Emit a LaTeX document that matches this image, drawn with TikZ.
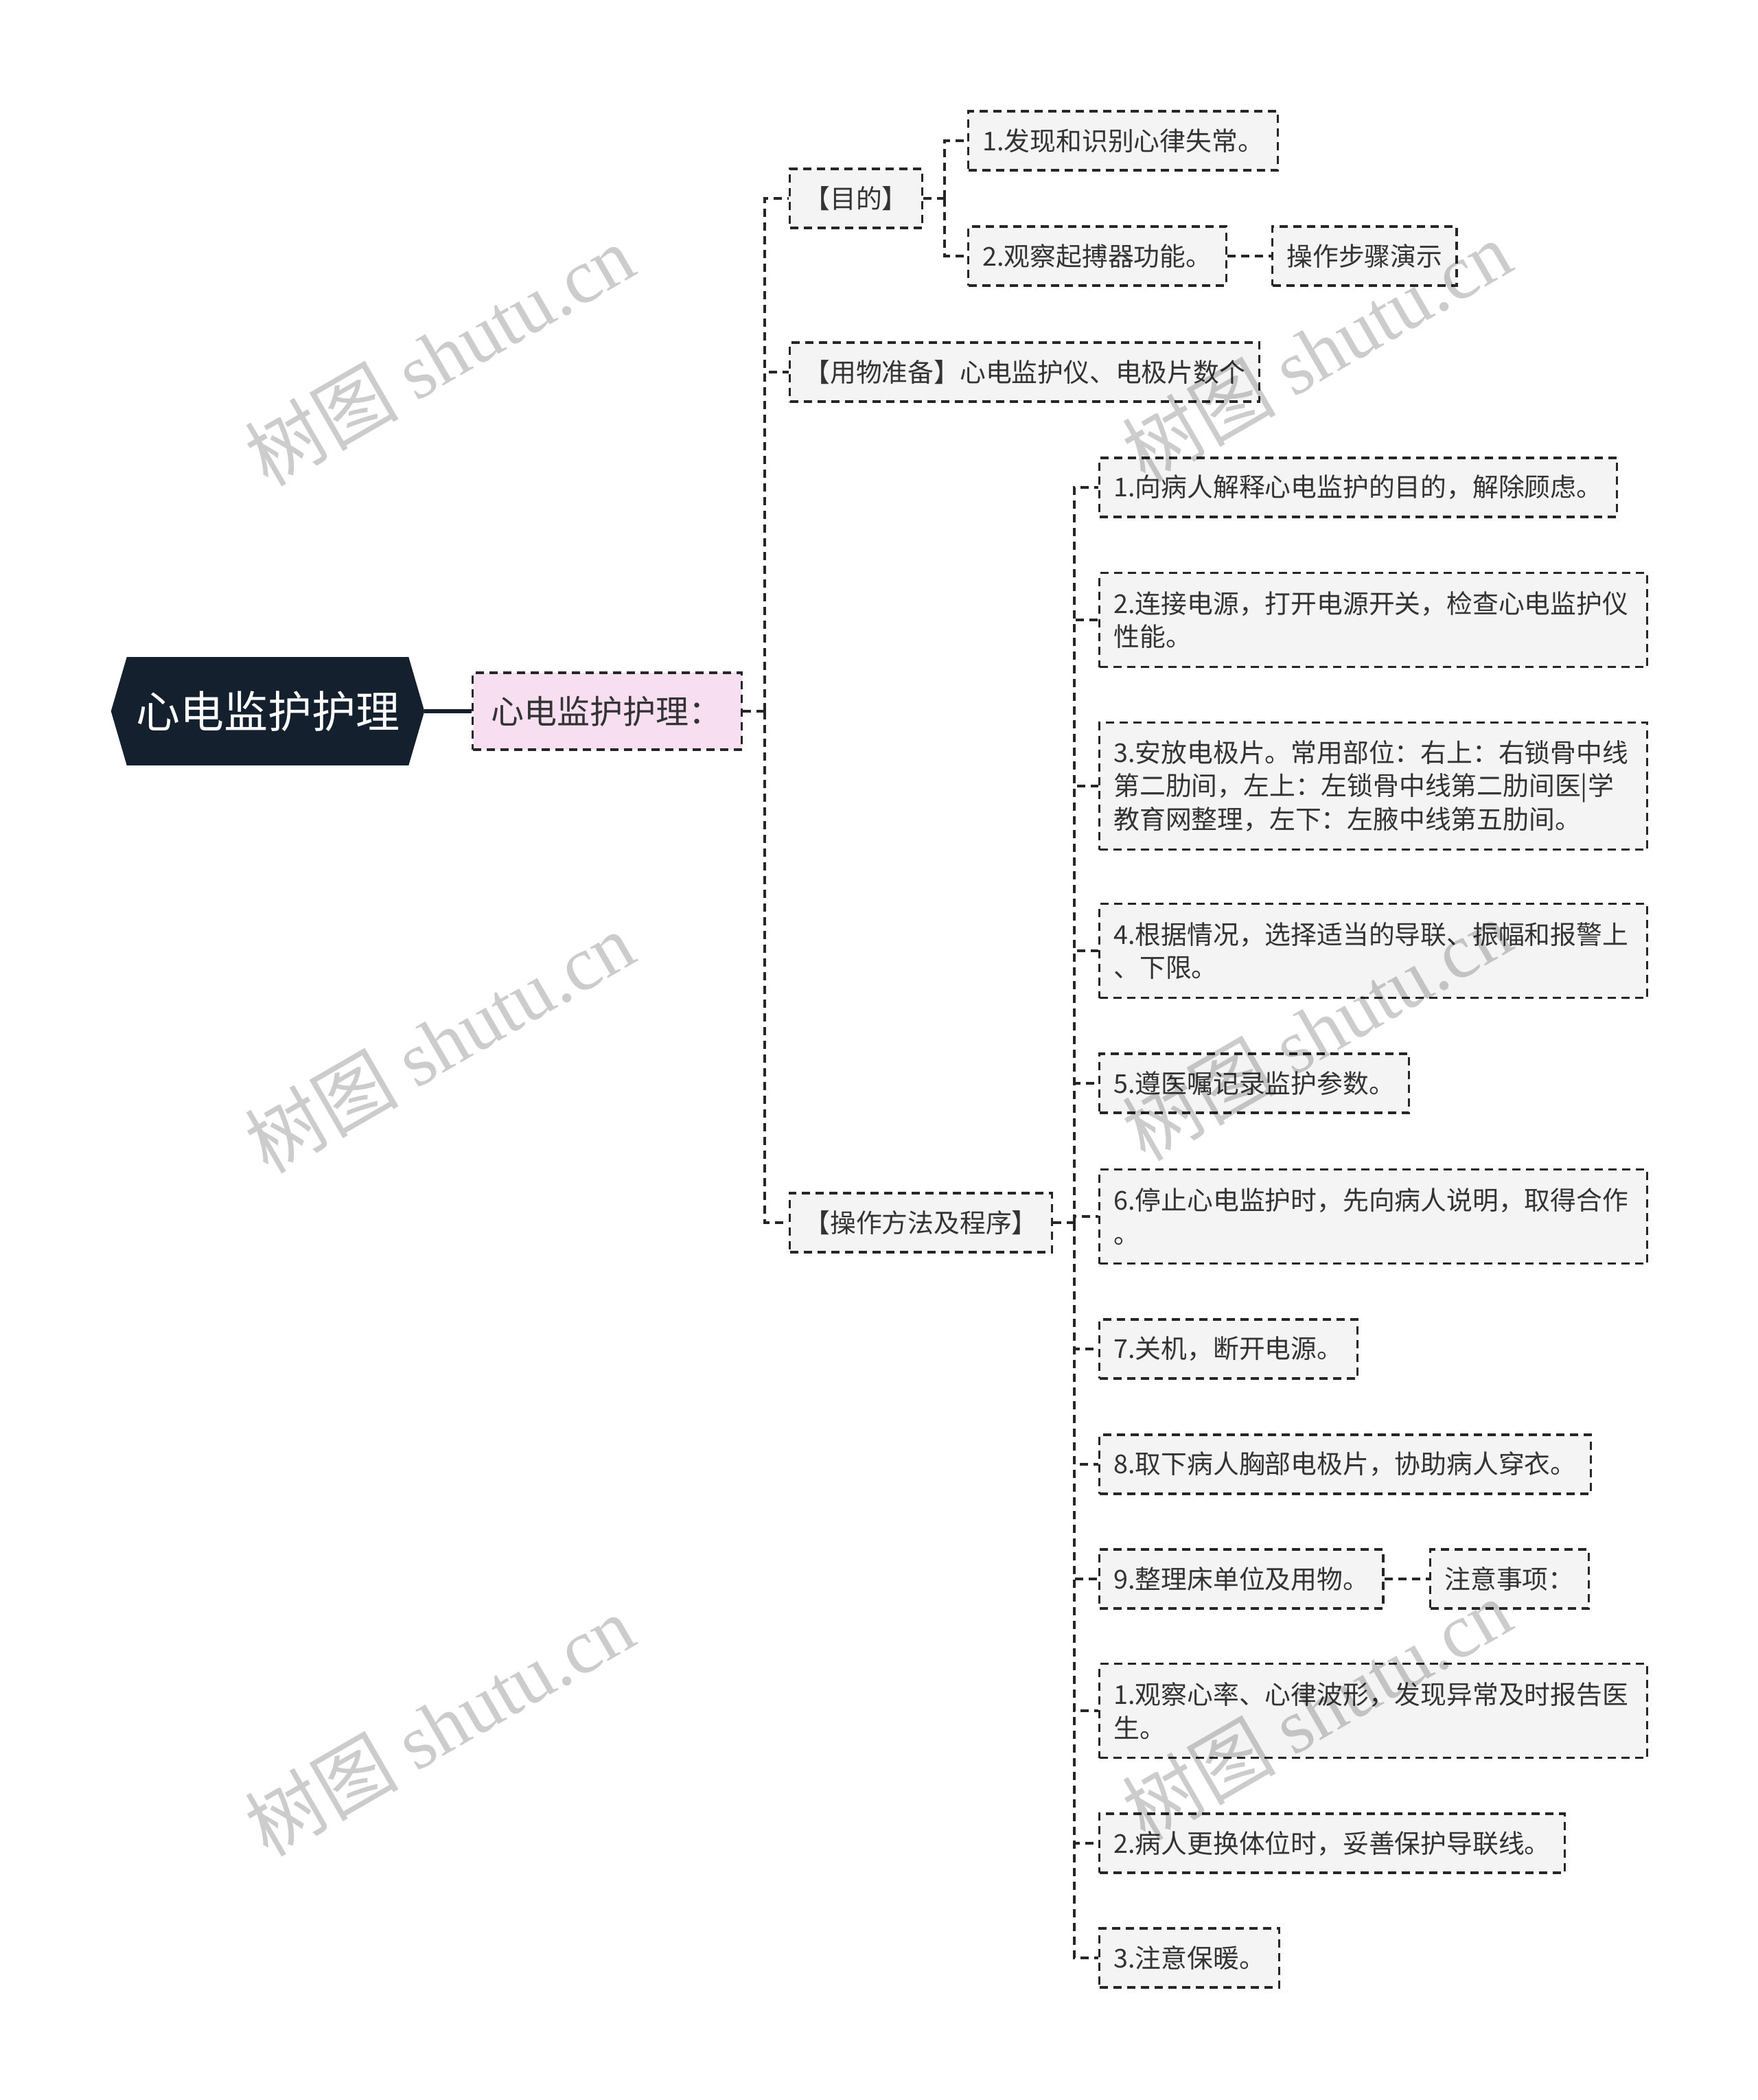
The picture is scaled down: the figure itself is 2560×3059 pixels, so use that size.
\documentclass[tikz,border=0pt]{standalone}
\usepackage{fontspec}
\setmainfont{Noto Sans CJK SC}
\newfontfamily\marklatin{Liberation Serif}
\usetikzlibrary{backgrounds}
\definecolor{rootfill}{HTML}{15202E}
\definecolor{topicfill}{HTML}{F7DEF1}
\definecolor{leaffill}{HTML}{F4F4F4}
\definecolor{edgeline}{HTML}{262626}
\definecolor{inktext}{HTML}{333333}
\tikzset{
  rootbox/.style={text=white, minimum width=113.75pt, minimum height=39pt,
    inner sep=0pt, font=\fontsize{16}{19}\selectfont},
  leafbox/.style={draw=edgeline, line width=0.8pt, dash pattern=on 3pt off 2pt,
    fill=leaffill, text=inktext, anchor=west, minimum height=21.5pt,
    inner xsep=5.2pt, inner ysep=0pt, font=\fontsize{9.45}{12.2}\selectfont},
  topicbox/.style={leafbox, fill=topicfill, text width=84.5pt, align=left,
    inner xsep=6.75pt, minimum height=28pt, font=\fontsize{12}{14}\selectfont},
  widebox/.style={leafbox, text width=189.1pt, align=left},
  link/.style={draw=edgeline, line width=0.8pt, dash pattern=on 3pt off 2pt},
  rootlink/.style={draw=rootfill, line width=1.6pt},
  watermark/.style={text=black, text opacity=0.2, rotate=30,
    font=\fontsize{28}{28}\selectfont}
}
\begin{document}
\begin{tikzpicture}[x=0.25pt, y=-0.25pt]
  \useasboundingbox (0,0) rectangle (2560,3059);
  % root and first topic
  \node[rootbox] (root) at (390,1036) {心电监护护理};
  \begin{scope}[on background layer]
    \fill[rootfill] (root.west) -- ([xshift=5.75pt]root.north west)
      -- ([xshift=-5.75pt]root.north east) -- (root.east)
      -- ([xshift=-5.75pt]root.south east) -- ([xshift=5.75pt]root.south west)
      -- cycle;
  \end{scope}
  \node[topicbox] (topic) at (687,1036) {心电监护护理：};
  \draw[rootlink] (root.east) -- (topic.west);

  % second level
  \node[leafbox] (aim) at (1149,289) {【目的】};
  \node[leafbox] (supply) at (1149,542) {【用物准备】心电监护仪、电极片数个};
  \node[leafbox] (proc) at (1149,1781) {【操作方法及程序】};
  \coordinate (mainfork) at (1114,1036);
  \draw[link] (topic.east) -- (mainfork);
  \foreach \kid in {aim,supply,proc}
    \draw[link] (mainfork) |- (\kid.west);

  % aims
  \node[leafbox] (aim1) at (1409,205) {1.发现和识别心律失常。};
  \node[leafbox] (aim2) at (1409,373) {2.观察起搏器功能。};
  \node[leafbox] (demo) at (1852,373) {操作步骤演示};
  \coordinate (aimfork) at (1376,289);
  \draw[link] (aim.east) -- (aimfork);
  \foreach \kid in {aim1,aim2}
    \draw[link] (aimfork) |- (\kid.west);
  \draw[link] (aim2.east) -- (demo.west);

  % steps
  \node[leafbox] (s1) at (1600,710) {1.向病人解释心电监护的目的，解除顾虑。};
  \node[widebox, minimum height=34.25pt] (s2) at (1600,903)
    {2.连接电源，打开电源开关，检查心电监护仪\\性能。};
  \node[widebox, minimum height=46.25pt] (s3) at (1600,1145)
    {3.安放电极片。常用部位：右上：右锁骨中线\\第二肋间，左上：左锁骨中线第二肋间医|学\\教育网整理，左下：左腋中线第五肋间。};
  \node[widebox, minimum height=34.25pt] (s4) at (1600,1385)
    {4.根据情况，选择适当的导联、振幅和报警上\\、下限。};
  \node[leafbox] (s5) at (1600,1578) {5.遵医嘱记录监护参数。};
  \node[widebox, minimum height=34.25pt] (s6) at (1600,1772)
    {6.停止心电监护时，先向病人说明，取得合作\\。};
  \node[leafbox] (s7) at (1600,1965) {7.关机，断开电源。};
  \node[leafbox] (s8) at (1600,2133) {8.取下病人胸部电极片，协助病人穿衣。};
  \node[leafbox] (s9) at (1600,2300) {9.整理床单位及用物。};
  \node[leafbox] (note) at (2082,2300) {注意事项：};
  \node[widebox, minimum height=34.25pt] (n1) at (1600,2492)
    {1.观察心率、心律波形，发现异常及时报告医\\生。};
  \node[leafbox] (n2) at (1600,2685) {2.病人更换体位时，妥善保护导联线。};
  \node[leafbox] (n3) at (1600,2852) {3.注意保暖。};
  \coordinate (procfork) at (1565,1781);
  \draw[link] (proc.east) -- (procfork);
  \foreach \kid in {s1,s2,s3,s4,s5,s6,s7,s8,s9,n1,n2,n3}
    \draw[link] (procfork) |- (\kid.west);
  \draw[link] (s9.east) -- (note.west);

  % watermarks
  \foreach \wx/\wy [count=\wi] in {640/517,1918/511,640/1518,1918/1500,640/2513,1918/2490}
    \node[watermark] (mark\wi) at (\wx,\wy) {树图 \marklatin shutu.cn};
\end{tikzpicture}
\end{document}
